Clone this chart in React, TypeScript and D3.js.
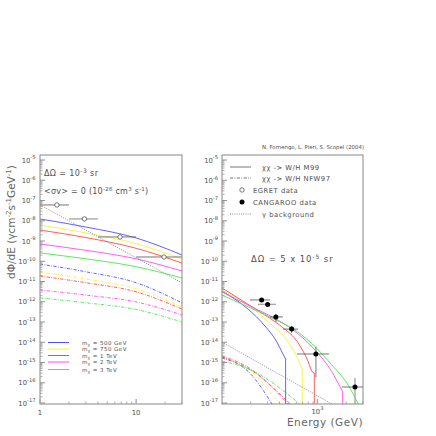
import React from 'react';
import * as d3 from 'd3';

// mass labels + colours of the five neutralino masses
const massLabels = ['500 GeV', '750 GeV', '1 TeV', '2 TeV', '3 TeV'];
const massColors = ['#5050ff', '#f4f43a', '#ff4a4a', '#ff4aff', '#48e848'];

// left panel (EGRET range), log10 of dPhi/dE at these energies
const leftEnergies = [1, 3, 10, 30];
const leftM99_500 = [-7.91, -8.31, -8.85, -9.69];
const leftM99_750 = [-8.21, -8.6, -9.13, -9.89];
const leftM99_1000 = [-8.46, -8.83, -9.36, -10.09];
const leftM99_2000 = [-9.15, -9.46, -9.88, -10.48];
const leftM99_3000 = [-9.59, -9.88, -10.27, -10.83];
const leftNFW_500 = [-10.14, -10.52, -11.06, -12.06];
const leftNFW_750 = [-10.53, -10.88, -11.36, -12.26];
const leftNFW_1000 = [-10.73, -11.06, -11.51, -12.36];
const leftNFW_2000 = [-11.42, -11.67, -12.01, -12.65];
const leftNFW_3000 = [-11.81, -12.05, -12.38, -13.0];
const leftBgE = [1, 30];
const leftBgF = [-7.22, -11.07];

// EGRET points
const egretE = [1.5, 2.9, 6.8, 19.5];
const egretLo = [1, 2, 4, 10];
const egretHi = [2, 4, 10, 30];
const egretF = [-7.22, -7.91, -8.8, -9.79];

// right panel (CANGAROO range): [E, log10 flux]
const rightM99_500: [number, number][] = [[100, -11.47], [187, -12.36], [282, -13.2], [376, -13.99], [435, -14.58], [464, -14.83]];
const rightM99_750: [number, number][] = [[100, -11.42], [200, -12.26], [318, -13.06], [476, -13.89], [607, -14.71], [693, -15.32]];
const rightM99_1000: [number, number][] = [[100, -11.32], [200, -12.21], [300, -12.74], [422, -13.23], [631, -14.05], [800, -14.96], [880, -15.45], [927, -15.52]];
const rightM99_2000: [number, number][] = [[100, -11.52], [200, -12.23], [350, -12.8], [558, -13.4], [940, -14.38], [1412, -15.45], [1724, -16.2], [1837, -16.44]];
const rightM99_3000: [number, number][] = [[100, -11.67], [200, -12.31], [350, -12.85], [600, -13.44], [981, -14.3], [1412, -15.12], [2095, -16.11], [2673, -17.05]];
const rightCutoff = [true, true, true, true, false];
const rightNFW_500: [number, number][] = [[100, -14.73], [200, -15.57], [334, -17.05]];
const rightNFW_750: [number, number][] = [[100, -14.63], [200, -15.42], [405, -17.05]];
const rightNFW_1000: [number, number][] = [[100, -14.78], [200, -15.37], [515, -17.05]];
const rightNFW_2000: [number, number][] = [[100, -14.68], [200, -15.32], [490, -17.05]];
const rightNFW_3000: [number, number][] = [[100, -14.93], [200, -15.37], [655, -17.05]];
const rightBgE = [100, 1419];
const rightBgF = [-13.99, -17.05];

// CANGAROO points
const cangE = [260, 301, 367, 537, 964, 2473];
const cangLo = [196, 238, 318, 435, 610, 1800];
const cangHi = [318, 368, 435, 625, 1320, 3000];
const cangF = [-11.91, -12.13, -12.75, -13.35, -14.58, -16.21];
const cangFlo = [-12.0, -12.2, -13.0, -13.54, -15.73, -17.2];
const cangFhi = [-11.82, -12.06, -12.6, -13.2, -14.22, -15.77];

const yDecades = d3.range(-17, -4);

const top = 155, bottom = 404;
const yScale = d3.scaleLog().domain([1e-17, 1e-5]).range([403, 160]);
const xLeft = d3.scaleLog().domain([1, 30]).range([40, 182]);
const xRight = d3.scaleLog().domain([100, 3000]).range([222, 363]);
const pw = (v: number) => Math.pow(10, v);
const FONT = 'DejaVu Sans, sans-serif';
const TXT = '#505050';
const DASHDOT = '3.2,1.4,0.8,1.4';

const makeLine = (x: any) =>
  d3.line<[number, number]>()
    .x(d => x(d[0]))
    .y(d => yScale(pw(d[1])))
    .curve(d3.curveMonotoneX);

function YAxis({ x0, labelX }: { x0: number; labelX: number }) {
  const minors: number[] = [];
  for (let n = -17; n < -5; n++) for (let k = 2; k <= 9; k++) minors.push(k * pw(n));
  return (
    <g>
      {minors.map((v, i) => (
        <line key={'m' + i} x1={x0} x2={x0 + 2.5} y1={yScale(v)} y2={yScale(v)} stroke="#999" strokeWidth={0.8} />
      ))}
      {yDecades.map(n => (
        <g key={n}>
          <line x1={x0} x2={x0 + 5} y1={yScale(pw(n))} y2={yScale(pw(n))} stroke="#888" strokeWidth={0.9} />
          <text x={labelX} y={yScale(pw(n)) + 2.6} textAnchor="end" fontSize={6.8} fill={TXT} fontFamily={FONT}>
            10<tspan dy={-3.2} fontSize={5.2}>{String(n)}</tspan>
          </text>
        </g>
      ))}
    </g>
  );
}

function XTicks({ x, majors, minors }: { x: any; majors: number[]; minors: number[] }) {
  return (
    <g>
      {minors.map(v => (
        <line key={'m' + v} x1={x(v)} x2={x(v)} y1={bottom} y2={bottom - 2.5} stroke="#999" strokeWidth={0.8} />
      ))}
      {majors.map(v => (
        <line key={'M' + v} x1={x(v)} x2={x(v)} y1={bottom} y2={bottom - 5} stroke="#aaa" strokeWidth={1.4} />
      ))}
    </g>
  );
}

export default function App() {
  const lineL = makeLine(xLeft);
  const lineR = makeLine(xRight);
  const leftM99 = [leftM99_500, leftM99_750, leftM99_1000, leftM99_2000, leftM99_3000];
  const leftNFW = [leftNFW_500, leftNFW_750, leftNFW_1000, leftNFW_2000, leftNFW_3000];
  const rightM99 = [rightM99_500, rightM99_750, rightM99_1000, rightM99_2000, rightM99_3000];
  const rightNFW = [rightNFW_500, rightNFW_750, rightNFW_1000, rightNFW_2000, rightNFW_3000];
  const toPts = (arr: number[], es: number[]) => es.map((e, i) => [e, arr[i]] as [number, number]);

  const leftMinX = [2, 3, 4, 5, 6, 7, 8, 9, 20, 30];
  const rightMinX = [200, 300, 400, 500, 600, 700, 800, 900, 2000, 3000];
  const legendY = [342.5, 349, 355.5, 362, 369.5];

  return (
    <svg width={436} height={436} style={{ position: 'absolute', left: 0, top: 0, background: '#fff' }}>
      <defs>
        <clipPath id="clipL"><rect x={40} y={top} width={142} height={bottom - top} /></clipPath>
        <clipPath id="clipR"><rect x={222} y={top} width={141} height={bottom - top} /></clipPath>
      </defs>

      {/* left panel */}
      <g clipPath="url(#clipL)" fill="none">
        {leftNFW.map((arr, i) => (
          <path key={'ln' + i} d={lineL(toPts(arr, leftEnergies)) || ''} stroke={massColors[i]} strokeWidth={0.9} strokeDasharray={DASHDOT} />
        ))}
        {leftM99.map((arr, i) => (
          <path key={'lm' + i} d={lineL(toPts(arr, leftEnergies)) || ''} stroke={massColors[i]} strokeWidth={0.9} />
        ))}
        <path d={lineL(toPts(leftBgF, leftBgE)) || ''} stroke="#777" strokeWidth={0.8} strokeDasharray="1,1.2" />
        {egretE.map((e, i) => (
          <g key={'eg' + i}>
            <line x1={xLeft(egretLo[i])} x2={xLeft(egretHi[i])} y1={yScale(pw(egretF[i]))} y2={yScale(pw(egretF[i]))} stroke={i === 1 ? '#aaa' : '#666'} strokeWidth={i === 1 ? 1.4 : 0.9} />
            <circle cx={xLeft(e)} cy={yScale(pw(egretF[i]))} r={2.2} fill="#fff" stroke="#555" strokeWidth={0.8} />
          </g>
        ))}
      </g>
      <rect x={40} y={top} width={142} height={bottom - top} fill="none" stroke="#888" strokeWidth={1} />
      <YAxis x0={40} labelX={35.5} />
      <XTicks x={xLeft} majors={[1, 10]} minors={leftMinX} />
      {[1, 10].map(v => (
        <text key={v} x={xLeft(v)} y={414.5} textAnchor="middle" fontSize={6.8} fill={TXT} fontFamily={FONT}>{v}</text>
      ))}

      <text x={44} y={176} fontSize={8} fill={TXT} fontFamily={FONT} letterSpacing={0.4}>
        ΔΩ = 10<tspan dy={-3.5} fontSize={6}>-3</tspan><tspan dy={3.5}> sr</tspan>
      </text>
      <text x={44} y={194} fontSize={8} fill={TXT} fontFamily={FONT} letterSpacing={0.25}>
        &lt;σv&gt; = 0 (10<tspan dy={-3.5} fontSize={5.5}>-26</tspan><tspan dy={3.5}> cm</tspan><tspan dy={-3.5} fontSize={5.5}>3</tspan><tspan dy={3.5}> s</tspan><tspan dy={-3.5} fontSize={5.5}>-1</tspan><tspan dy={3.5}>)</tspan>
      </text>

      {massLabels.map((m, i) => (
        <g key={'lg' + i}>
          <line x1={48} x2={69} y1={legendY[i]} y2={legendY[i]} stroke={massColors[i]} strokeWidth={1} />
          <text x={82} y={legendY[i] + 2} fontSize={5.5} fill={TXT} fontFamily={FONT} letterSpacing={0.45}>
            m<tspan dy={1} fontSize={4}>χ</tspan><tspan dy={-1}> = {m}</tspan>
          </text>
        </g>
      ))}

      {/* right panel */}
      <g clipPath="url(#clipR)" fill="none">
        {rightNFW.map((pts, i) => (
          <path key={'rn' + i} d={lineR(pts) || ''} stroke={massColors[i]} strokeWidth={0.9} strokeDasharray={DASHDOT} />
        ))}
        {rightM99.map((pts, i) => {
          const last = pts[pts.length - 1];
          const tail = rightCutoff[i] ? `L${xRight(last[0])},${bottom + 2}` : '';
          return <path key={'rm' + i} d={(lineR(pts) || '') + tail} stroke={massColors[i]} strokeWidth={0.9} />;
        })}
        <path d={lineR(toPts(rightBgF, rightBgE)) || ''} stroke="#777" strokeWidth={0.8} strokeDasharray="1,1.2" />
        {cangE.map((e, i) => {
          const y = yScale(pw(cangF[i]));
          const grey = i === 1;
          return (
            <g key={'cg' + i}>
              <line x1={xRight(cangLo[i])} x2={xRight(cangHi[i])} y1={y} y2={y} stroke={grey ? '#aaa' : '#666'} strokeWidth={grey ? 1.4 : 0.9} />
              <line x1={xRight(e)} x2={xRight(e)} y1={yScale(pw(cangFlo[i]))} y2={yScale(pw(cangFhi[i]))} stroke={i === 5 ? '#aaa' : '#666'} strokeWidth={i === 5 ? 1.4 : 0.9} />
              <circle cx={xRight(e)} cy={y} r={2.5} fill="#000" />
            </g>
          );
        })}
      </g>
      <rect x={222} y={top} width={141} height={bottom - top} fill="none" stroke="#888" strokeWidth={1} />
      <YAxis x0={222} labelX={218} />
      <XTicks x={xRight} majors={[1000]} minors={rightMinX} />
      <text x={xRight(1000)} y={413.5} textAnchor="middle" fontSize={6.8} fill={TXT} fontFamily={FONT}>
        10<tspan dy={-3.2} fontSize={5.2}>3</tspan>
      </text>

      <text x={364} y={149} textAnchor="end" fontSize={5.4} fill={TXT} fontFamily={FONT}>
        N. Fornengo, L. Pieri, S. Scopel (2004)
      </text>

      {/* right legend */}
      <line x1={230} x2={251} y1={167} y2={167} stroke="#666" strokeWidth={0.9} />
      <text x={262} y={169.5} fontSize={6.8} fill={TXT} fontFamily={FONT} letterSpacing={0.5}>χχ -&gt; W/H M99</text>
      <line x1={230} x2={251} y1={178} y2={178} stroke="#666" strokeWidth={0.9} strokeDasharray={DASHDOT} />
      <text x={262} y={180.5} fontSize={6.8} fill={TXT} fontFamily={FONT} letterSpacing={0.5}>χχ -&gt; W/H NFW97</text>
      <circle cx={242} cy={190} r={2.2} fill="#fff" stroke="#555" strokeWidth={0.8} />
      <text x={253} y={192.5} fontSize={6.8} fill={TXT} fontFamily={FONT} letterSpacing={0.5}>EGRET data</text>
      <circle cx={242} cy={202} r={2.5} fill="#000" />
      <text x={253} y={204.5} fontSize={6.8} fill={TXT} fontFamily={FONT} letterSpacing={0.5}>CANGAROO data</text>
      <line x1={230} x2={251} y1={214} y2={214} stroke="#777" strokeWidth={0.8} strokeDasharray="1,1.2" />
      <text x={262} y={216.5} fontSize={6.8} fill={TXT} fontFamily={FONT} letterSpacing={0.5}>γ background</text>

      <text x={251} y={262} fontSize={8.5} fill={TXT} fontFamily={FONT} letterSpacing={0.9}>
        ΔΩ = 5 x 10<tspan dy={-3.5} fontSize={6}>-5</tspan><tspan dy={3.5}> sr</tspan>
      </text>

      {/* axis titles */}
      <text x={363} y={426} textAnchor="end" fontSize={10.5} fill="#666" fontFamily={FONT} letterSpacing={0.5}>
        Energy (GeV)
      </text>
      <text transform="translate(14.5,222) rotate(-90)" textAnchor="middle" fontSize={10.5} fill="#666" fontFamily={FONT}>
        dΦ/dE (γcm<tspan dy={-4} fontSize={7}>-2</tspan><tspan dy={4}>s</tspan><tspan dy={-4} fontSize={7}>-1</tspan><tspan dy={4}>GeV</tspan><tspan dy={-4} fontSize={7}>-1</tspan><tspan dy={4}>)</tspan>
      </text>
    </svg>
  );
}
